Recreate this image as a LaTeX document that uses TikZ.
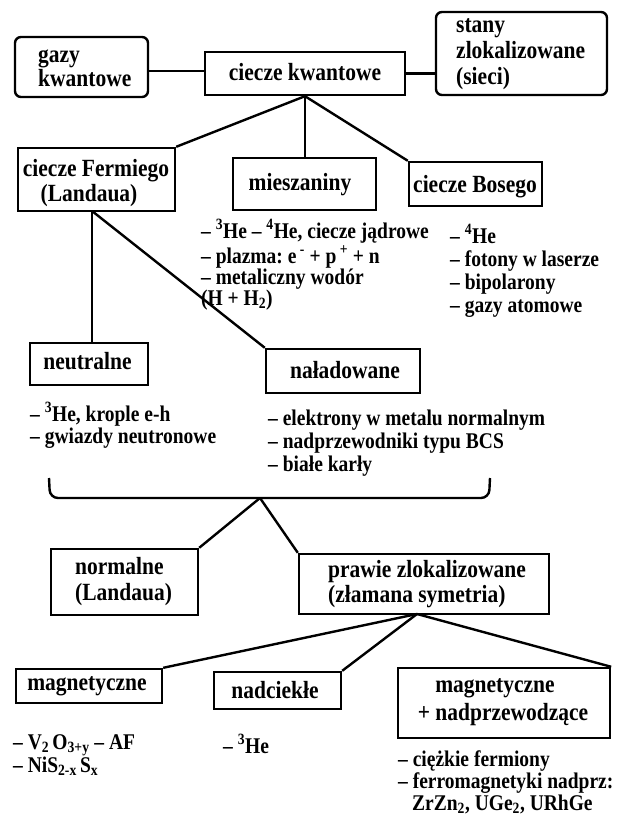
\documentclass[tikz,border=0pt]{standalone}
\usepackage{fontspec}
\setmainfont{Liberation Serif}
\newcommand\stretchtxt[1]{\scalebox{1}[1.15]{#1}}
\begin{document}
\frenchspacing
\begin{tikzpicture}[x=1pt,y=-1pt,
  box/.style={draw, line width=2.4pt, inner sep=0pt, rectangle},
  rbox/.style={box, rounded corners=6pt},
  conn/.style={line width=2.4pt},
  bt/.style={font=\bfseries\fontsize{21.5}{25}\selectfont, inner sep=0pt},
  lt/.style={font=\bfseries\fontsize{19.5}{22}\selectfont, inner sep=0pt, anchor=base west},
]
\useasboundingbox (0,0) rectangle (616,818);

% boxes
\node[rbox, minimum width=133pt, minimum height=60pt] (gazy) at (81.5,67) {};
\node[box, minimum width=200pt, minimum height=43pt] (ciecze) at (305,73.5) {};
\node[rbox, minimum width=171pt, minimum height=83pt] (stany) at (521.5,53.5) {};
\node[box, minimum width=157pt, minimum height=63pt] (fermi) at (96.5,179.5) {};
\node[box, minimum width=143pt, minimum height=52pt] (miesz) at (304.5,184) {};
\node[box, minimum width=133pt, minimum height=44pt] (bose) at (475.5,184) {};
\node[box, minimum width=118pt, minimum height=42pt] (neutr) at (89,364) {};
\node[box, minimum width=154pt, minimum height=44pt] (nalad) at (343,371) {};
\node[box, minimum width=147pt, minimum height=66pt] (normal) at (124.5,582) {};
\node[box, minimum width=250pt, minimum height=60pt] (prawie) at (424,584) {};
\node[box, minimum width=146pt, minimum height=34pt] (magn) at (89,686) {};
\node[box, minimum width=127pt, minimum height=37pt] (nadc) at (277.5,690.5) {};
\node[box, minimum width=212pt, minimum height=70pt] (magnad) at (504,703) {};

% box texts
\node[bt, anchor=base west] (gazyA) at (38,63) {\stretchtxt{gazy}};
\node[bt, anchor=base west] (gazyB) at (38,87) {\stretchtxt{kwantowe}};
\node[bt, anchor=base] (cieczeT) at (305,81) {\stretchtxt{ciecze kwantowe}};
\node[bt, anchor=base west] (stanyA) at (456,33) {\stretchtxt{stany}};
\node[bt, anchor=base west] (stanyB) at (456,59) {\stretchtxt{zlokalizowane}};
\node[bt, anchor=base west] (stanyC) at (456,85) {\stretchtxt{(sieci)}};
\node[bt, anchor=base] (fermiA) at (96,177) {\stretchtxt{ciecze Fermiego}};
\node[bt, anchor=base] (fermiB) at (89,202) {\stretchtxt{(Landaua)}};
\node[bt, anchor=base] (mieszT) at (300,191) {\stretchtxt{mieszaniny}};
\node[bt, anchor=base] (boseT) at (475,193) {\stretchtxt{ciecze Bosego}};
\node[bt, anchor=base] (neutrT) at (87.5,369) {\stretchtxt{neutralne}};
\node[bt, anchor=base] (naladT) at (345,378) {\stretchtxt{naładowane}};
\node[bt, anchor=base west] (normalA) at (75,574) {\stretchtxt{normalne}};
\node[bt, anchor=base west] (normalB) at (75,600) {\stretchtxt{(Landaua)}};
\node[bt, anchor=base west] (prawieA) at (328,577) {\stretchtxt{prawie zlokalizowane}};
\node[bt, anchor=base west] (prawieB) at (328,602) {\stretchtxt{(złamana symetria)}};
\node[bt, anchor=base] (magnT) at (87,690) {\stretchtxt{magnetyczne}};
\node[bt, anchor=base] (nadcT) at (275,698) {\stretchtxt{nadciekłe}};
\node[bt, anchor=base] (magnadA) at (495,692) {\stretchtxt{magnetyczne}};
\node[bt, anchor=base] (magnadB) at (503,720) {\stretchtxt{+ nadprzewodzące}};

% lists
\node[lt] (m1) at (201,238) {\stretchtxt{– \textsuperscript{3}He – \textsuperscript{4}He, ciecze jądrowe}};
\node[lt] (m2) at (201,263) {\stretchtxt{– plazma: e\,\textsuperscript{-} + p\,\textsuperscript{+} + n}};
\node[lt] (m3) at (201,284) {\stretchtxt{– metaliczny wodór}};
\node[lt] (m4) at (201,305) {\stretchtxt{(H + H\textsubscript{2})}};
\node[lt] (b1) at (450,243) {\stretchtxt{– \textsuperscript{4}He}};
\node[lt] (b2) at (450,266) {\stretchtxt{– fotony w laserze}};
\node[lt] (b3) at (450,289) {\stretchtxt{– bipolarony}};
\node[lt] (b4) at (450,312) {\stretchtxt{– gazy atomowe}};
\node[lt] (n1) at (30,421) {\stretchtxt{– \textsuperscript{3}He, krople e-h}};
\node[lt] (n2) at (30,443) {\stretchtxt{– gwiazdy neutronowe}};
\node[lt] (l1) at (268,425) {\stretchtxt{– elektrony w metalu normalnym}};
\node[lt] (l2) at (268,448) {\stretchtxt{– nadprzewodniki typu BCS}};
\node[lt] (l3) at (268,471) {\stretchtxt{– białe karły}};
\node[lt] (g1) at (13,749) {\stretchtxt{– V\textsubscript{2}\,O\textsubscript{3+y} – AF}};
\node[lt] (g2) at (13,772) {\stretchtxt{– NiS\textsubscript{2-x}\,S\textsubscript{x}}};
\node[lt] (h1) at (223,753) {\stretchtxt{– \textsuperscript{3}He}};
\node[lt] (f1) at (398,766) {\stretchtxt{– ciężkie fermiony}};
\node[lt] (f2) at (398,788) {\stretchtxt{– ferromagnetyki nadprz:}};
\node[lt] (f3) at (412,810) {\stretchtxt{ZrZn\textsubscript{2}, UGe\textsubscript{2}, URhGe}};

% connectors
\coordinate (cw) at ([yshift=2.5pt]ciecze.west);
\draw[conn] (cw) -- (cw -| gazy.east);
\draw[conn] (ciecze.east) -- (ciecze.east -| stany.west);
\draw[conn] (ciecze.south) -- (fermi.north east);
\draw[conn] (ciecze.south) -- (ciecze.south |- miesz.north);
\draw[conn] (ciecze.south) -- (bose.north west);
\coordinate (fb) at (92,211);
\draw[conn] (fb) -- (fb |- neutr.north);
\draw[conn] (fb) -- (nalad.north west);
% brace
\coordinate (brL) at (49,478);
\coordinate (brR) at (490,478);
\coordinate (tip) at (260,498);
\draw[conn, rounded corners=8pt] (brL) -- (50,498) -- (489,498) -- (brR);
\draw[conn] (tip) -- (normal.north east);
\draw[conn] (tip) -- (prawie.north west);
\coordinate (pb) at (417,614);
\draw[conn] (pb) -- (magn.north east);
\draw[conn] (pb) -- (nadc.north east);
\draw[conn] (pb) -- (magnad.north east);
\end{tikzpicture}
\end{document}
